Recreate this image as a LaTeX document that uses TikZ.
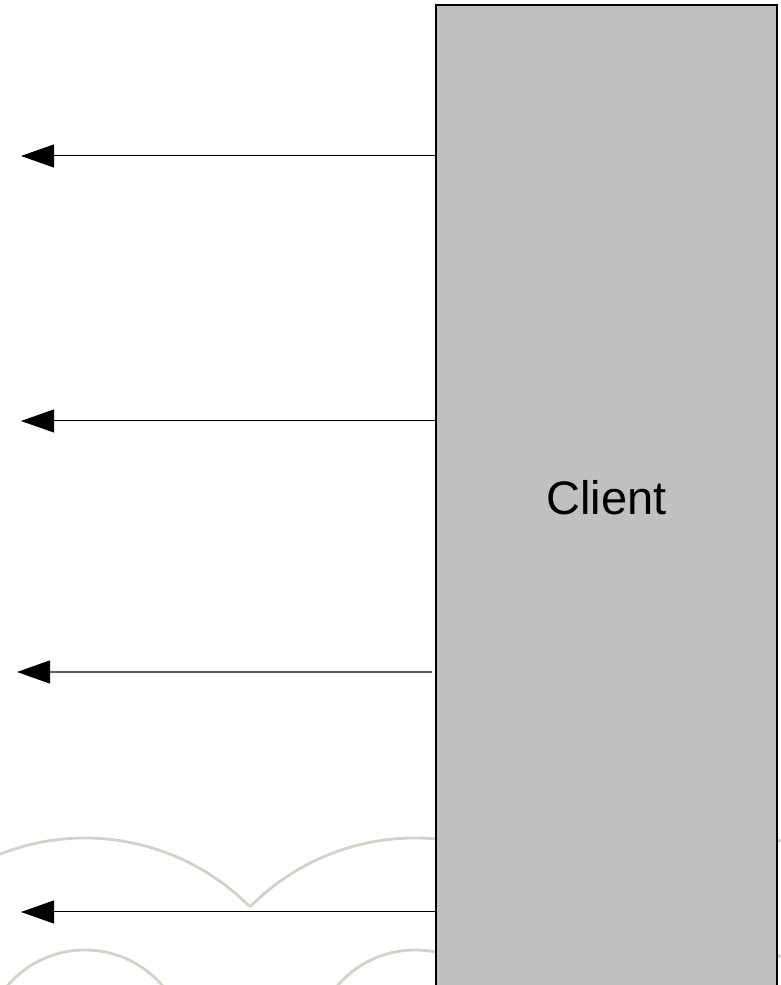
\documentclass[tikz,border=0pt]{standalone}
\usepackage{fontspec}
\setmainfont{Liberation Sans}
\usetikzlibrary{arrows.meta}
\definecolor{deco}{RGB}{212,210,198}
\definecolor{boxfill}{RGB}{192,192,192}
\definecolor{grayline}{RGB}{96,96,96}
\begin{document}
\begin{tikzpicture}[x=1pt,y=1pt,
  decoarc/.style={draw=deco,line width=2.8pt},
  msg/.style={draw=black,line width=1pt,-{Triangle[length=33pt,width=23pt]}},
  clientbox/.style={draw=black,line width=1.3pt,fill=boxfill,minimum width=341pt,minimum height=985pt,inner sep=0pt,font=\fontsize{47}{50}\selectfont}]
\clip (0,0) rectangle (781,985);
\useasboundingbox (0,0) rectangle (781,985);
% background decoration
\foreach \cx in {-245,85,415,745}{
  \draw[decoarc] ([shift={(44.7:232)}]\cx,-85) arc[start angle=44.7,end angle=135.3,radius=232];
  \draw[decoarc] (\cx,-67) circle[radius=102];
}
% client box
\node[clientbox] (client) at (606.5,487.5) {Client};
% message ends
\coordinate (e1) at (21,829);
\coordinate (e2) at (21,564);
\coordinate (s3) at (432,313);
\coordinate (e3) at (17,313);
\coordinate (e4) at (21,73);
\draw[msg] (client.west |- e1) -- (e1);
\draw[msg] (client.west |- e2) -- (e2);
\draw[msg,draw=grayline,line width=1.4pt,-{Triangle[length=33pt,width=23pt,fill=black,color=black]}] (s3) -- (e3);
\draw[msg] (client.west |- e4) -- (e4);
\end{tikzpicture}
\end{document}
